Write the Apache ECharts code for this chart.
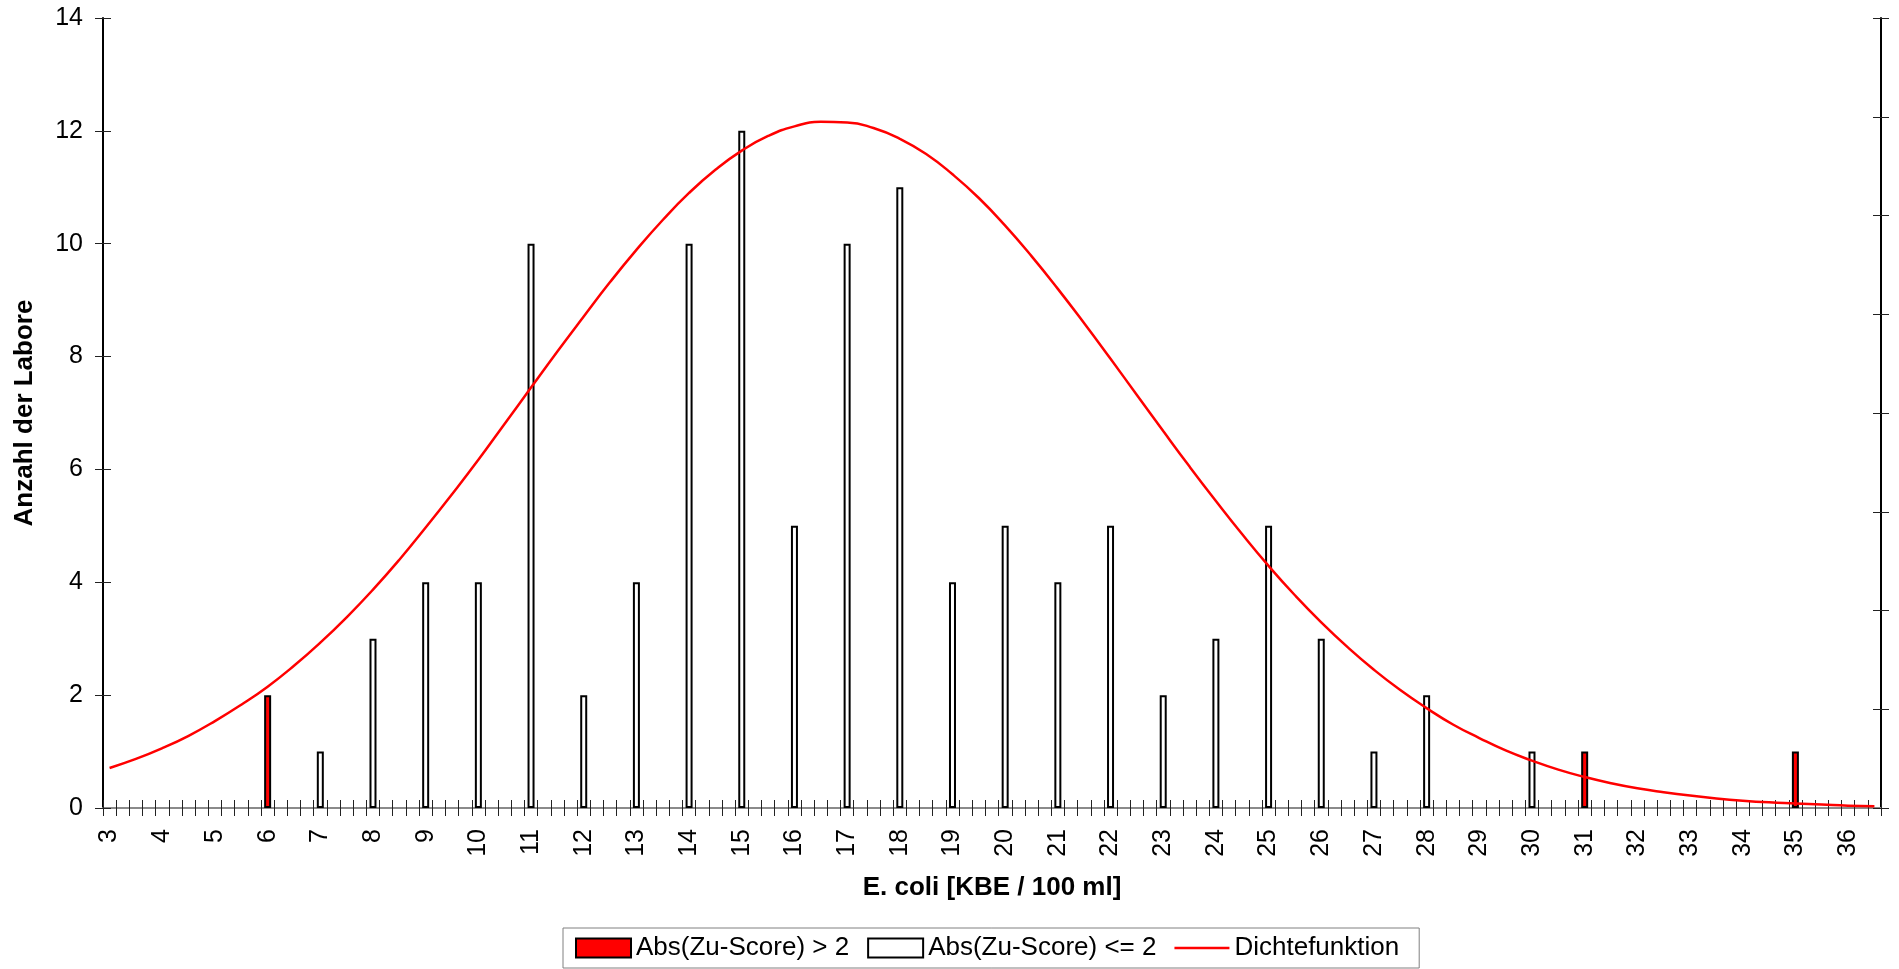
<!DOCTYPE html>
<html>
<head>
<meta charset="utf-8">
<script src="https://cdn.jsdelivr.net/npm/echarts@6/dist/echarts.min.js"></script>
<style>
html,body{margin:0;padding:0;background:#fff;}
#chart{width:1899px;height:969px;}
</style>
</head>
<body>
<div id="chart"></div>
<script>
// ---- axis grid (class width 0.25 on a category axis) ----
const xStart = 3, xEnd = 36.5, xStep = 0.25;
const xTickLabels = ['3','4','5','6','7','8','9','10','11','12','13','14','15','16','17','18','19','20',
  '21','22','23','24','25','26','27','28','29','30','31','32','33','34','35','36'];
const yTickLabels = ['0','2','4','6','8','10','12','14'];

// ---- bars: Abs(Zu-Score) <= 2 ----
const inX      = [7, 8, 9, 10, 11, 12, 13, 14, 15, 16, 17, 18, 19, 20, 21, 22, 23, 24, 25, 26, 27, 28, 30];
const inCounts = [1, 3, 4, 4, 10, 2, 4, 10, 12, 5, 10, 11, 4, 5, 4, 5, 2, 3, 5, 3, 1, 2, 1];

// ---- bars: Abs(Zu-Score) > 2 ----
const outX      = [6, 31, 35];
const outCounts = [2, 1, 1];

// ---- density curve (in left-axis units) ----
const densX = [3, 3.5, 4, 4.5, 5, 5.5, 6, 6.5, 7, 7.5, 8, 8.5, 9, 9.5, 10, 10.5, 11, 11.5, 12, 12.5,
  13, 13.5, 14, 14.5, 15, 15.5, 16, 16.5, 17, 17.5, 18, 18.5, 19, 19.5, 20, 20.5, 21, 21.5, 22, 22.5,
  23, 23.5, 24, 24.5, 25, 25.5, 26, 26.5, 27, 27.5, 28, 28.5, 29, 29.5, 30, 30.5, 31, 31.5, 32, 32.5,
  33, 33.5, 34, 34.5, 35, 35.5, 36, 36.5];
const densY = [0.71, 0.87, 1.06, 1.28, 1.54, 1.83, 2.15, 2.52, 2.93, 3.38, 3.87, 4.40, 4.97, 5.56, 6.17, 6.81,
  7.45, 8.09, 8.71, 9.32, 9.89, 10.42, 10.90, 11.31, 11.65, 11.91, 12.08, 12.16, 12.15, 12.05, 11.86, 11.59,
  11.23, 10.81, 10.32, 9.78, 9.20, 8.59, 7.96, 7.32, 6.68, 6.05, 5.44, 4.85, 4.29, 3.77, 3.29, 2.85, 2.45,
  2.09, 1.77, 1.48, 1.24, 1.02, 0.84, 0.68, 0.55, 0.44, 0.35, 0.28, 0.22, 0.17, 0.13, 0.10, 0.08, 0.06,
  0.04, 0.03];

const categories = [];
for (let i = 0; xStart + i * xStep <= xEnd + 1e-9; i++) {
  categories.push(String(+(xStart + i * xStep).toFixed(2)));
}

const FONT = 'Liberation Sans, Arial, sans-serif';
const chart = echarts.init(document.getElementById('chart'), null, {renderer: 'canvas'});

const commonCat = {type: 'category', data: categories, boundaryGap: true, splitLine: {show: false}};

// thin horizontal bar icon (degenerate corner sub-paths keep the full icon box)
const lineIcon = 'path://M0,0L0.01,0L0.01,0.01Z M0,8.3L55,8.3L55,10.7L0,10.7Z M54.99,19L55,19L55,18.99Z';

const option = {
  animation: false,
  backgroundColor: '#fff',
  grid: {left: 103, right: 18, top: 18, bottom: 161, containLabel: false},
  legend: {
    left: 563, top: 928,
    itemWidth: 55, itemHeight: 19, itemGap: 18,
    padding: [7, 20, 7, 12],
    borderColor: '#808080', borderWidth: 1,
    textStyle: {fontSize: 26, fontFamily: FONT, color: '#000'},
    data: [
      {name: 'Abs(Zu-Score) > 2', icon: 'rect'},
      {name: 'Abs(Zu-Score) <= 2', icon: 'rect'},
      {name: 'Dichtefunktion', icon: lineIcon, itemStyle: {color: '#ff0000', borderWidth: 0}}
    ]
  },
  xAxis: [
    Object.assign({}, commonCat, {
      position: 'bottom',
      name: 'E. coli [KBE / 100 ml]', nameLocation: 'middle', nameGap: 67,
      nameTextStyle: {fontSize: 26, fontWeight: 'bold', fontFamily: FONT, color: '#000'},
      axisLine: {show: true, lineStyle: {color: '#000', width: 2}},
      axisTick: {show: true, interval: 0, length: 8, inside: false, lineStyle: {color: '#222', width: 1}},
      axisLabel: {
        interval: (idx, val) => xTickLabels.indexOf(val) >= 0,
        rotate: 90, margin: 21, fontSize: 25, fontFamily: FONT, color: '#000'
      }
    }),
    Object.assign({}, commonCat, {
      position: 'bottom',
      axisLine: {show: false},
      axisTick: {show: true, interval: 0, length: 8, inside: true, lineStyle: {color: '#222', width: 1}},
      axisLabel: {show: false}
    }),
    Object.assign({}, commonCat, {
      position: 'top',
      axisLine: {show: true, lineStyle: {color: '#8a8a8a', width: 2}},
      axisTick: {show: false},
      axisLabel: {show: false}
    })
  ],
  yAxis: [
    {
      type: 'value', position: 'left', min: 0, max: 14, interval: 2,
      name: 'Anzahl der Labore', nameLocation: 'middle', nameGap: 65,
      nameTextStyle: {fontSize: 26, fontWeight: 'bold', fontFamily: FONT, color: '#000'},
      axisLine: {show: true, lineStyle: {color: '#000', width: 2}},
      axisTick: {show: true, length: 8, inside: false, lineStyle: {color: '#222', width: 1}},
      axisLabel: {margin: 20, fontSize: 25, fontFamily: FONT, color: '#000',
        formatter: (v) => yTickLabels[Math.round(v / 2)]},
      splitLine: {show: false}
    },
    {
      type: 'value', position: 'left', min: 0, max: 14, interval: 2,
      axisLine: {show: false},
      axisTick: {show: true, length: 8, inside: true, lineStyle: {color: '#222', width: 1}},
      axisLabel: {show: false}, splitLine: {show: false}
    },
    {
      type: 'value', position: 'right', min: 0, max: 8, interval: 1,
      axisLine: {show: true, lineStyle: {color: '#000', width: 2}},
      axisTick: {show: true, length: 8, inside: false, lineStyle: {color: '#222', width: 1}},
      axisLabel: {show: false}, splitLine: {show: false}
    },
    {
      type: 'value', position: 'right', min: 0, max: 8, interval: 1,
      axisLine: {show: false},
      axisTick: {show: true, length: 8, inside: true, lineStyle: {color: '#222', width: 1}},
      axisLabel: {show: false}, splitLine: {show: false}
    }
  ],
  series: [
    {
      name: 'Abs(Zu-Score) > 2', type: 'bar', xAxisIndex: 0, yAxisIndex: 0,
      barWidth: 7, barGap: '-100%',
      itemStyle: {color: '#ff0000', borderColor: '#000', borderWidth: 2},
      data: outX.map((x, i) => [String(x), outCounts[i]])
    },
    {
      name: 'Abs(Zu-Score) <= 2', type: 'bar', xAxisIndex: 0, yAxisIndex: 0,
      barWidth: 7, barGap: '-100%',
      itemStyle: {color: '#ffffff', borderColor: '#000', borderWidth: 2},
      data: inX.map((x, i) => [String(x), inCounts[i]])
    },
    {
      name: 'Dichtefunktion', type: 'line', xAxisIndex: 0, yAxisIndex: 0,
      smooth: true, symbol: 'none', z: 5,
      lineStyle: {color: '#ff0000', width: 2.5},
      itemStyle: {color: '#ff0000'},
      data: densX.map((x, i) => [String(x), densY[i]])
    }
  ]
};
chart.setOption(option);
</script>
</body>
</html>
